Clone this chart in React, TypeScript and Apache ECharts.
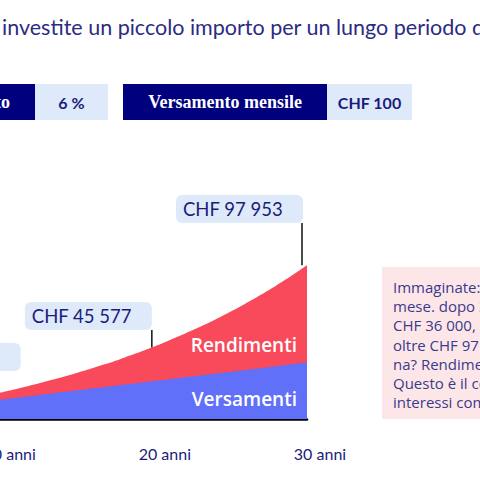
import React, { useEffect, useRef } from "react";
import * as echarts from "echarts";

// Anni di risparmio
const anni = [
  0, 1, 2, 3, 4, 5, 6, 7, 8, 9, 10, 11, 12, 13, 14, 15, 16, 17, 18, 19, 20,
  21, 22, 23, 24, 25, 26, 27, 28, 29, 30,
];

// Somma dei versamenti (CHF 100 al mese)
const versamenti = [
  0, 1200, 2400, 3600, 4800, 6000, 7200, 8400, 9600, 10800, 12000, 13200,
  14400, 15600, 16800, 18000, 19200, 20400, 21600, 22800, 24000, 25200, 26400,
  27600, 28800, 30000, 31200, 32400, 33600, 34800, 36000,
];

// Capitale totale (versamenti + rendimenti al 6 %)
const capitale = [
  0, 1239, 2552, 3944, 5420, 6984, 8642, 10400, 12263, 14238, 16331, 18550,
  20902, 23395, 26038, 28839, 31808, 34956, 38292, 41829, 45577, 49551, 53763,
  58228, 62961, 67977, 73295, 78931, 84906, 91240, 97953,
];

// Anni con il riquadro del capitale
const anniEvidenziati = [10, 20, 30];

const titolo = "investite un piccolo importo per un lungo periodo di tempo";
const parametri = [
  { nome: "Rendimento", valore: "6 %" },
  { nome: "Versamento mensile", valore: "CHF 100" },
];
const testoNota = [
  "Immaginate: investite CHF 100 al",
  "mese. dopo 30 anni avete versato",
  "CHF 36 000, ma il vostro capitale è di",
  "oltre CHF 97 953. Magia? Fortu-",
  "na? Rendimento!",
  "Questo è il cosiddetto effetto degli",
  "interessi composti.",
];

const NAVY = "#00007f";
const TEXT_NAVY = "#1c1c7a";
const LIGHT_BLUE = "#deeafa";
const RED = "#f84a5a";
const BLUE = "#6070f8";
const SANS = "Lato, 'Open Sans', sans-serif";

// Il grafico parte fuori dal bordo sinistro della pagina
const SHIFT = 170;
const WIDTH = 480 + SHIFT;

// Disposizione dei riquadri annotati (in pixel)
const layoutRiquadri = [
  { top: 343, boxShift: 24, lineShift: 0 },
  { top: 302, boxShift: 0, lineShift: 0 },
  { top: 195, boxShift: -4, lineShift: -5 },
];

const chf = (v: number) => {
  const k = Math.floor(v / 1000);
  const r = String(v % 1000).padStart(3, "0");
  return `CHF ${k} ${r}`;
};

export default function App() {
  const ref = useRef<HTMLDivElement>(null);

  useEffect(() => {
    if (!ref.current) return;
    const chart = echarts.init(ref.current, null, { renderer: "svg" });

    chart.setOption({
      animation: false,
      grid: { left: 0, right: 173, top: 262, bottom: 61 },
      xAxis: {
        type: "value",
        min: 0,
        max: 30,
        interval: 10,
        axisLine: { show: true, lineStyle: { color: "#000", width: 2.5 } },
        axisTick: { show: false },
        splitLine: { show: false },
        axisLabel: {
          formatter: (v: number) => `${v} anni`,
          color: TEXT_NAVY,
          fontSize: 16,
          fontFamily: SANS,
          margin: 26,
          padding: [0, 0, 0, 26],
        },
      },
      yAxis: { type: "value", min: 0, max: 100000, show: false },
      series: [
        {
          name: "Rendimenti",
          type: "line",
          data: anni.map((a, i) => [a, capitale[i]]),
          symbol: "none",
          smooth: 0.2,
          lineStyle: { width: 0 },
          areaStyle: { color: RED, opacity: 1 },
          z: 2,
        },
        {
          name: "Versamenti",
          type: "line",
          data: anni.map((a, i) => [a, versamenti[i]]),
          symbol: "none",
          lineStyle: { width: 0 },
          areaStyle: { color: BLUE, opacity: 1 },
          z: 3,
        },
      ],
    });

    const px = (x: number, y: number) =>
      chart.convertToPixel({ gridIndex: 0 }, [x, y]) as number[];

    const elements: any[] = [];
    const X = (v: number) => v + SHIFT;

    // Titolo
    elements.push({
      type: "text",
      x: X(2),
      y: 27,
      style: {
        text: titolo,
        fill: "#2c2b82",
        fontSize: 21.5,
        fontFamily: SANS,
        align: "left",
        verticalAlign: "middle",
      },
    });

    // Parametri: etichetta scura + valore chiaro
    const righe = [
      { x: -150, w: 185, vw: 73 },
      { x: 123, w: 204, vw: 85 },
    ];
    parametri.forEach((p, i) => {
      const r = righe[i];
      elements.push({
        type: "rect",
        shape: { x: X(r.x), y: 84, width: r.w, height: 36 },
        style: { fill: NAVY },
      });
      elements.push({
        type: "text",
        x: X(r.x + r.w - 25),
        y: 102,
        style: {
          text: p.nome,
          fill: "#fff",
          fontSize: 18,
          fontWeight: "bold",
          fontFamily: "'Liberation Serif', serif",
          align: "right",
          verticalAlign: "middle",
        },
      });
      elements.push({
        type: "rect",
        shape: { x: X(r.x + r.w), y: 84, width: r.vw, height: 36 },
        style: { fill: LIGHT_BLUE },
      });
      elements.push({
        type: "text",
        x: X(r.x + r.w + r.vw / 2),
        y: 102,
        style: {
          text: p.valore,
          fill: TEXT_NAVY,
          fontSize: 16,
          fontWeight: "bold",
          fontFamily: SANS,
          align: "center",
          verticalAlign: "middle",
        },
      });
    });

    // Riquadri con il capitale
    anniEvidenziati.forEach((anno, i) => {
      const valore = capitale[anni.indexOf(anno)];
      const [x, y] = px(anno, valore);
      const l = layoutRiquadri[i];
      const right = x + l.boxShift;
      const w = 127;
      const h = 28;
      elements.push({
        type: "rect",
        z: 10,
        shape: { x: right - w, y: l.top, width: w, height: h, r: 6 },
        style: { fill: LIGHT_BLUE },
      });
      elements.push({
        type: "text",
        z: 11,
        x: right - w + 7,
        y: l.top + h / 2,
        style: {
          text: chf(valore),
          fill: TEXT_NAVY,
          fontSize: 18.5,
          fontFamily: SANS,
          align: "left",
          verticalAlign: "middle",
        },
      });
      elements.push({
        type: "line",
        z: 10,
        shape: { x1: x + l.lineShift, y1: l.top + h, x2: x + l.lineShift, y2: y },
        style: { stroke: "#111", lineWidth: 1.5 },
      });
    });

    // Nomi delle aree
    const [xEnd] = px(30, 0);
    ["Rendimenti", "Versamenti"].forEach((nome, i) => {
      elements.push({
        type: "text",
        z: 20,
        x: xEnd - 10,
        y: i === 0 ? 345 : 399,
        style: {
          text: nome,
          fill: "#fff",
          fontSize: 19,
          fontWeight: 600,
          fontFamily: "'Open Sans', sans-serif",
          align: "right",
          verticalAlign: "middle",
        },
      });
    });

    // Nota a destra
    elements.push({
      type: "rect",
      shape: { x: X(382), y: 267, width: 200, height: 152 },
      style: { fill: "#fde6e8" },
    });
    testoNota.forEach((riga, i) => {
      elements.push({
        type: "text",
        x: X(393),
        y: 287 + i * 19.2,
        style: {
          text: riga,
          fill: "#3a3a8c",
          fontSize: 15,
          fontFamily: "'Open Sans', sans-serif",
          align: "left",
          verticalAlign: "middle",
        },
      });
    });

    chart.setOption({ graphic: elements });

    return () => chart.dispose();
  }, []);

  return (
    <div style={{ position: "absolute", left: 0, top: 0, width: 480, height: 480, overflow: "hidden", background: "#fff" }}>
      <div
        ref={ref}
        style={{ position: "absolute", left: -SHIFT, top: 0, width: WIDTH, height: 480 }}
      />
    </div>
  );
}
